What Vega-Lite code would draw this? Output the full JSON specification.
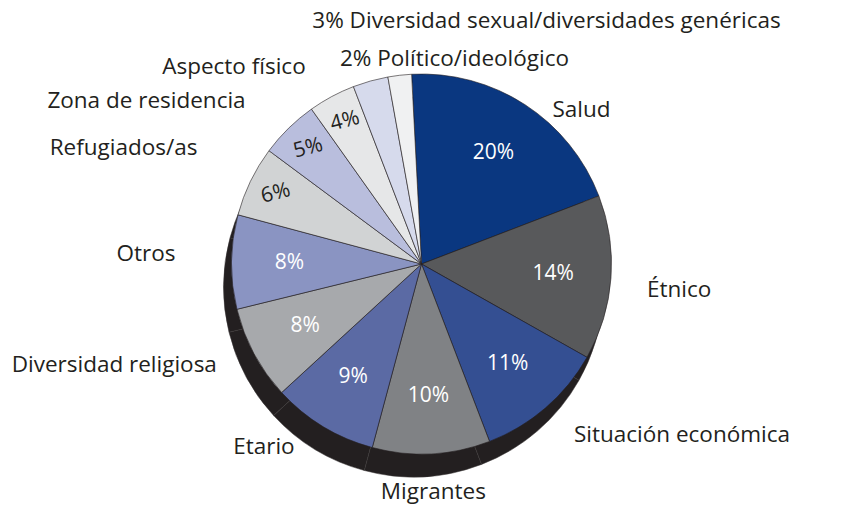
{
  "$schema": "https://vega.github.io/schema/vega-lite/v6.json",
  "width": 843,
  "height": 511,
  "autosize": {"type": "fit", "contains": "padding"},
  "padding": {"top": 16, "left": 0, "right": 0, "bottom": 0},
  "background": "white",
  "view": {"stroke": null},
  "config": {"font": "Open Sans", "text": {"font": "Open Sans", "fontSize": 22.5, "color": "#231f20"}},
  "data": {
    "values": [
      {"idx": 1, "cat": "Salud", "value": 20, "pct": "20%"},
      {"idx": 2, "cat": "Étnico", "value": 14, "pct": "14%"},
      {"idx": 3, "cat": "Situación económica", "value": 11, "pct": "11%"},
      {"idx": 4, "cat": "Migrantes", "value": 10, "pct": "10%"},
      {"idx": 5, "cat": "Etario", "value": 9, "pct": "9%"},
      {"idx": 6, "cat": "Diversidad religiosa", "value": 8, "pct": "8%"},
      {"idx": 7, "cat": "Otros", "value": 8, "pct": "8%"},
      {"idx": 8, "cat": "Refugiados/as", "value": 6, "pct": "6%"},
      {"idx": 9, "cat": "Zona de residencia", "value": 5, "pct": "5%"},
      {"idx": 10, "cat": "Aspecto físico", "value": 4, "pct": "4%"},
      {"idx": 11, "cat": "Diversidad sexual/diversidades genéricas", "value": 3, "pct": "3%"},
      {"idx": 12, "cat": "Político/ideológico", "value": 2, "pct": "2%"}
    ]
  },
  "encoding": {
    "theta": {"field": "value", "type": "quantitative", "stack": true, "scale": {"range": [-0.052, 6.231]}},
    "order": {"field": "idx", "type": "quantitative"}
  },
  "layer": [
    {
      "mark": {"type": "arc", "outerRadius": 190, "xOffset": -8, "yOffset": 23, "color": "#231f20", "stroke": "#3a3637", "strokeWidth": 0.5}
    },
    {
      "mark": {"type": "arc", "outerRadius": 190, "stroke": "#231f20", "strokeWidth": 0.6},
      "encoding": {
        "color": {
          "field": "cat", "type": "nominal", "legend": null,
          "scale": {
            "domain": ["Salud", "Étnico", "Situación económica", "Migrantes", "Etario", "Diversidad religiosa", "Otros", "Refugiados/as", "Zona de residencia", "Aspecto físico", "Diversidad sexual/diversidades genéricas", "Político/ideológico"],
            "range": ["#0a3780", "#58595b", "#344f92", "#808285", "#5b6aa4", "#a7a9ac", "#8a94c2", "#d1d3d4", "#b9bedd", "#e6e7e8", "#d6daec", "#f0f1f2"]
          }
        }
      }
    },
    {
      "mark": {"type": "text", "radius": 132, "color": "white", "fontSize": 21},
      "encoding": {
        "text": {"condition": {"test": "datum.idx <= 7", "field": "pct"}, "value": ""}
      }
    },
    {
      "mark": {"type": "text", "radius": 162, "color": "#231f20", "fontSize": 21, "angle": 345},
      "encoding": {
        "text": {"condition": {"test": "datum.idx >= 8 && datum.idx <= 10", "field": "pct"}, "value": ""}
      }
    },
    {
      "mark": {"type": "text", "radius": 200, "align": "left", "baseline": "middle", "dx": 22, "dy": 14},
      "encoding": {
        "text": {"condition": {"test": "datum.idx == 1", "field": "cat"}, "value": ""}
      }
    },
    {
      "mark": {"type": "text", "radius": 212, "align": "left", "baseline": "middle", "dx": 14, "dy": 10},
      "encoding": {
        "text": {"condition": {"test": "datum.idx == 2 || datum.idx == 3", "field": "cat"}, "value": ""}
      }
    },
    {
      "mark": {"type": "text", "radius": 228, "align": "center", "baseline": "middle"},
      "encoding": {
        "text": {"condition": {"test": "datum.idx == 4", "field": "cat"}, "value": ""}
      }
    },
    {
      "mark": {"type": "text", "radius": 214, "align": "right", "baseline": "middle", "dx": -16},
      "encoding": {
        "text": {"condition": {"test": "datum.idx == 5 || datum.idx == 6", "field": "cat"}, "value": ""}
      }
    },
    {
      "mark": {"type": "text", "radius": 230, "align": "right", "baseline": "middle", "dx": -16, "dy": -8},
      "encoding": {
        "text": {"condition": {"test": "datum.idx == 7", "field": "cat"}, "value": ""}
      }
    },
    {
      "mark": {"type": "text", "radius": 240, "align": "right", "baseline": "middle", "dx": -8, "dy": -12},
      "encoding": {
        "text": {"condition": {"test": "datum.idx == 8", "field": "cat"}, "value": ""}
      }
    },
    {
      "mark": {"type": "text", "radius": 240, "align": "right", "baseline": "middle", "dx": -8, "dy": 9},
      "encoding": {
        "text": {"condition": {"test": "datum.idx == 9", "field": "cat"}, "value": ""}
      }
    },
    {
      "mark": {"type": "text", "radius": 224, "align": "right", "baseline": "middle", "dx": -10},
      "encoding": {
        "text": {"condition": {"test": "datum.idx == 10", "field": "cat"}, "value": ""}
      }
    },
    {
      "mark": {"type": "text", "radius": 250, "align": "left", "baseline": "middle", "dx": -42, "dy": -2},
      "encoding": {
        "text": {"condition": {"test": "datum.idx == 11", "value": "3%  Diversidad sexual/diversidades genéricas"}, "value": ""}
      }
    },
    {
      "mark": {"type": "text", "radius": 205, "align": "left", "baseline": "middle", "dx": -58, "dy": -1},
      "encoding": {
        "text": {"condition": {"test": "datum.idx == 12", "value": "2%  Político/ideológico"}, "value": ""}
      }
    }
  ]
}
